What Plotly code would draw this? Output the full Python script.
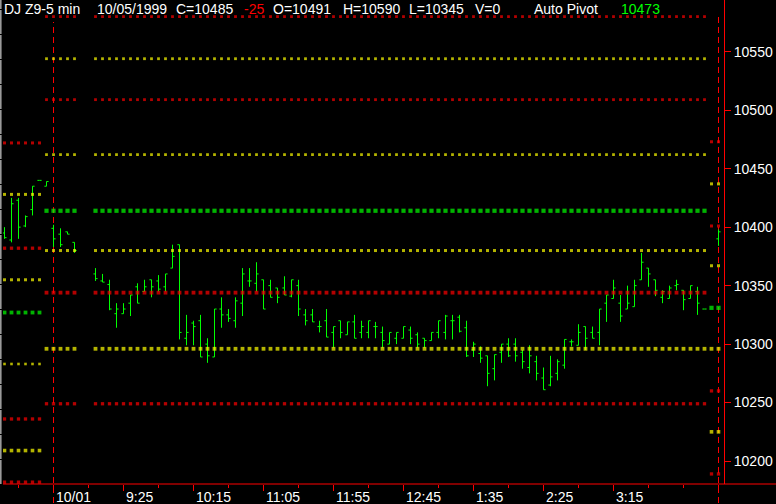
import plotly.graph_objects as go

# ---------------- data ----------------
bar_index = [-7, -6, -5, -4, -3, -2, -1, 0, 1, 2, 3] + list(range(6, 94)) + [95]
opens = [10395, 10389, 10423, 10401, 10415, 10440, 10435, 10399, 10394, 10396, 10387,
         10360, 10354, 10351, 10326, 10326, 10335, 10349, 10345, 10355, 10354,
         10349, 10365, 10385, 10305, 10318, 10320, 10300, 10289, 10330, 10325,
         10320, 10335, 10354, 10352, 10355, 10350, 10348, 10348, 10341, 10350,
         10325, 10325, 10315, 10320, 10310, 10320, 10308, 10319, 10310, 10310,
         10315, 10310, 10300, 10305, 10305, 10312, 10308, 10305, 10303, 10310,
         10310, 10320, 10323, 10314, 10295, 10292, 10290, 10279, 10293, 10300,
         10300, 10293, 10280, 10285, 10271, 10265, 10275, 10282, 10302, 10299,
         10315, 10310, 10310, 10335, 10339, 10335, 10330, 10332, 10355, 10365,
         10355, 10340, 10339, 10350, 10346, 10339, 10345, 10330, 10390]
highs = [10400, 10425, 10425, 10410, 10435, 10440, 10439, 10402, 10399, 10396, 10387,
         10365, 10360, 10355, 10335, 10335, 10342, 10352, 10355, 10355, 10359,
         10360, 10385, 10385, 10325, 10320, 10325, 10305, 10330, 10340, 10330,
         10340, 10365, 10365, 10370, 10355, 10355, 10348, 10358, 10355, 10355,
         10330, 10330, 10320, 10330, 10315, 10320, 10319, 10325, 10320, 10320,
         10319, 10315, 10310, 10310, 10315, 10315, 10310, 10305, 10310, 10320,
         10325, 10325, 10325, 10320, 10302, 10298, 10290, 10291, 10300, 10305,
         10305, 10295, 10299, 10290, 10280, 10290, 10287, 10304, 10304, 10317,
         10315, 10315, 10330, 10342, 10355, 10342, 10350, 10355, 10378, 10365,
         10355, 10346, 10350, 10355, 10346, 10350, 10349, 10330, 10398]
lows = [10390, 10387, 10390, 10400, 10410, 10440, 10435, 10383, 10383, 10394, 10378,
        10354, 10353, 10329, 10314, 10326, 10324, 10335, 10345, 10340, 10345,
        10345, 10365, 10304, 10299, 10299, 10289, 10284, 10289, 10314, 10319,
        10314, 10324, 10349, 10345, 10330, 10340, 10335, 10342, 10340, 10324,
        10316, 10319, 10310, 10306, 10297, 10305, 10308, 10305, 10305, 10305,
        10305, 10297, 10300, 10300, 10305, 10300, 10297, 10297, 10303, 10305,
        10304, 10304, 10310, 10289, 10289, 10284, 10264, 10269, 10284, 10289,
        10285, 10279, 10275, 10269, 10261, 10264, 10269, 10279, 10298, 10299,
        10295, 10305, 10299, 10319, 10339, 10319, 10330, 10332, 10355, 10349,
        10341, 10335, 10339, 10346, 10329, 10339, 10325, 10330, 10384]
closes = [10391, 10420, 10400, 10409, 10435, 10440, 10439, 10390, 10385, 10394, 10380,
          10356, 10353, 10330, 10330, 10330, 10342, 10335, 10349, 10349, 10347,
          10360, 10375, 10310, 10310, 10315, 10289, 10290, 10330, 10325, 10322,
          10337, 10360, 10354, 10360, 10330, 10340, 10340, 10342, 10355, 10330,
          10320, 10319, 10315, 10306, 10315, 10310, 10319, 10305, 10315, 10320,
          10315, 10303, 10310, 10310, 10315, 10305, 10300, 10303, 10310, 10320,
          10324, 10320, 10311, 10290, 10300, 10288, 10275, 10291, 10300, 10290,
          10290, 10285, 10290, 10275, 10261, 10272, 10285, 10304, 10302, 10310,
          10305, 10305, 10330, 10342, 10348, 10324, 10335, 10350, 10370, 10360,
          10346, 10345, 10348, 10351, 10338, 10350, 10335, 10330, 10396]

# pivot levels: previous day, current day, next day projection
prev_idx = [-7, -6, -5, -4, -3, -2]
prev_levels = [10472, 10428, 10382, 10355, 10327, 10283, 10236, 10209, 10182]
cur_idx = [-1, 0, 1, 2, 3] + list(range(6, 94))
cur_levels = [10580, 10544, 10509, 10462, 10414, 10380, 10344, 10296, 10249]
next_idx = [94, 95]
next_levels = [10473, 10437, 10401, 10367, 10331, 10296, 10260, 10225, 10189]
level_kinds = ["R", "Y", "R", "Y", "P", "Y", "R", "Y", "R"]

y_ticks = [10200, 10250, 10300, 10350, 10400, 10450, 10500, 10550]
x_major = [0, 10, 20, 30, 40, 50, 60, 70, 80, 95]
x_labels = ["10/01", "9:25", "10:15", "11:05", "11:55", "12:45", "1:35", "2:25", "3:15"]
x_minor = [-5, 5, 15, 25, 35, 45, 55, 65, 75, 85, 90]
day_breaks = [0, 95]

header = [("DJ Z9-5 min", "w"), ("10/05/1999", "w"), ("C=10485", "w"), ("-25", "r"),
          ("O=10491", "w"), ("H=10590", "w"), ("L=10345", "w"), ("V=0", "w"),
          ("Auto Pivot", "w"), ("10473", "g")]

# ---------------- styles ----------------
RED, YEL, GRN, BAR = "#ff0000", "#ffff00", "#00ff00", "#00ff00"
kind_color = {"R": RED, "Y": YEL, "P": GRN}
prev_sizes = [3, 3, 3.3, 3, 3.8, 2.6, 3.3, 3.6, 3.3]
cur_sizes = [2.8, 2.8, 2.8, 2.8, 4.2, 3, 3.8, 3.8, 3.3]
next_sizes = [3, 3, 3, 3, 4.2, 3.8, 3.3, 3.6, 3.3]
header_px = [3, 96, 175, 243, 272, 342, 408, 474, 533, 620]
text_color = {"w": "#ffffff", "r": RED, "g": GRN}

W, H = 776, 504
ML, MR, MT, MB = 3, 52, 0, 20
PW, PH = W - ML - MR, H - MT - MB
BAR_PX = 7.0
X0_PX = 53.5 - ML  # pixel offset of bar index 0 inside plot
x_range = [-X0_PX / BAR_PX, (PW - X0_PX) / BAR_PX]
y_range = [10180.4, 10594.2]

def px_to_paper_x(px):
    return (px - ML) / PW

fig = go.Figure()

# pivot level dots
for idx, levels, sizes in [(prev_idx, prev_levels, prev_sizes),
                           (cur_idx, cur_levels, cur_sizes),
                           (next_idx, next_levels, next_sizes)]:
    xs, ys, cs, ss = [], [], [], []
    for lvl, kind, sz in zip(levels, level_kinds, sizes):
        for i in idx:
            xs.append(i)
            ys.append(lvl)
            cs.append(kind_color[kind])
            ss.append(sz)
    fig.add_trace(go.Scatter(x=xs, y=ys, mode="markers",
                             marker=dict(symbol="square", size=ss, color=cs, line=dict(width=0)),
                             hoverinfo="skip", showlegend=False))

fig.add_trace(go.Ohlc(x=bar_index, open=opens, high=highs, low=lows, close=closes,
                      increasing=dict(line=dict(color=BAR, width=1)),
                      decreasing=dict(line=dict(color=BAR, width=1)),
                      tickwidth=0.3, showlegend=False, hoverinfo="skip"))

shapes = []
for d in day_breaks:
    shapes.append(dict(type="line", xref="x", yref="paper", x0=d, x1=d,
                       y0=-19 / PH, y1=1 - (17 if d > 0 else 22) / PH,
                       line=dict(color=RED, width=1, dash="6px,4px"), layer="below"))
# bottom axis line across full width
shapes.append(dict(type="line", xref="paper", yref="paper", x0=0, x1=px_to_paper_x(W),
                   y0=0, y1=0, line=dict(color=RED, width=1)))
# grey left edge
shapes.append(dict(type="line", xref="paper", yref="paper", x0=px_to_paper_x(0.8), x1=px_to_paper_x(0.8),
                   y0=0, y1=1, line=dict(color="#9a9a9a", width=1.6, dash="24px,1px")))

annotations = []
for (txt, c), px in zip(header, header_px):
    annotations.append(dict(text=txt, xref="paper", yref="paper", x=px_to_paper_x(px), y=1,
                            xanchor="left", yanchor="top", showarrow=False, borderpad=0,
                            font=dict(family="Liberation Sans, Arial", size=14, color=text_color[c])))
for v, lab in zip(x_major, x_labels):
    annotations.append(dict(text=lab, xref="x", yref="paper", x=v, y=0, xanchor="left",
                            yanchor="top", showarrow=False, xshift=1, yshift=-4, borderpad=0,
                            font=dict(family="Liberation Sans, Arial", size=14, color="#ffffff")))

fig.update_layout(
    width=W, height=H, autosize=False,
    margin=dict(l=ML, r=MR, t=MT, b=MB, pad=0),
    paper_bgcolor="#000000", plot_bgcolor="#000000",
    showlegend=False, shapes=shapes, annotations=annotations,
    xaxis=dict(range=x_range, showgrid=False, zeroline=False, showline=False,
               tickvals=x_major, showticklabels=False, ticks="outside", ticklen=6,
               tickcolor=RED, tickwidth=1, automargin=False,
               rangeslider=dict(visible=False),
               minor=dict(tickvals=x_minor, ticks="outside", ticklen=3, tickcolor=RED,
                          tickwidth=1, showgrid=False)),
    yaxis=dict(range=y_range, side="right", showgrid=False, zeroline=False,
               showline=True, linecolor=RED, linewidth=1, mirror=False,
               tickvals=y_ticks, tickformat="d", ticks="outside", ticklen=6,
               tickcolor=RED, tickwidth=1,
               tickfont=dict(family="Liberation Sans, Arial", size=14, color="#ffffff"),
               automargin=False),
)

fig.write_html("out.html", config={"displayModeBar": False},
               post_script="document.body.style.margin='0';document.body.style.background='#000';")
